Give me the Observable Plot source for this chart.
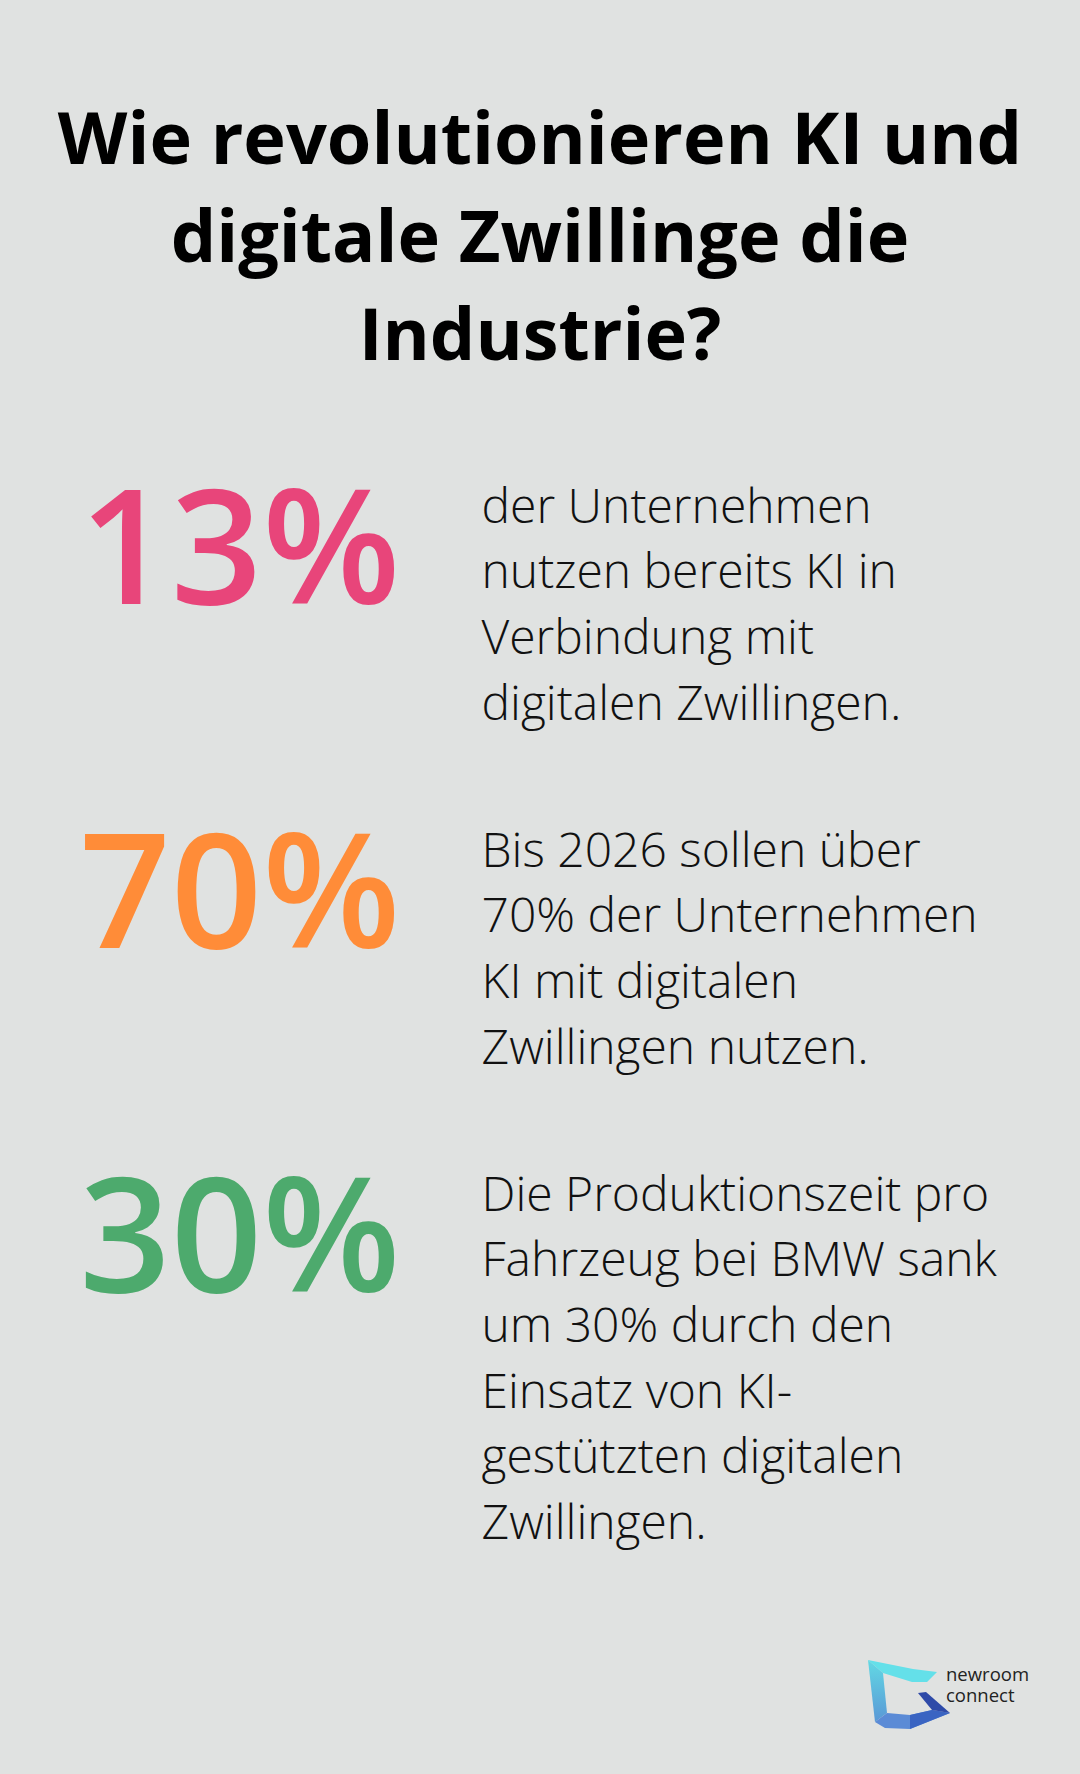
<!DOCTYPE html>
<html><head><meta charset="utf-8">
<script src="https://cdn.jsdelivr.net/npm/d3@7"></script>
<script src="https://cdn.jsdelivr.net/npm/@observablehq/plot@0.6"></script>
<style>
html,body{margin:0;padding:0;background:#e0e2e1;}
#page{position:relative;width:1080px;height:1774px;overflow:hidden;background:#e0e2e1;}
#title{position:absolute;left:0;top:87px;width:1080px;margin:0;text-align:center;font-family:"Open Sans";font-weight:700;font-size:72px;line-height:98px;color:#000;}
#chart{position:absolute;left:0;top:400px;}
#logoicon{position:absolute;left:860px;top:1650px;}
.logotext{position:absolute;left:946px;font-family:"Open Sans";font-weight:400;font-size:18.5px;line-height:20px;color:#222;}
</style></head>
<body>
<div id="page">
  <h1 id="title"></h1>
  <div id="chart"></div>
  <svg id="logoicon" width="92" height="82" viewBox="0 0 92 82">
    <defs>
      <linearGradient id="gl" x1="0" y1="0" x2="0" y2="1">
        <stop offset="0" stop-color="#62d9e4"/><stop offset="1" stop-color="#5a98d6"/>
      </linearGradient>
    </defs>
    <polygon points="8,10 53,19 77,22 67,32 52,32 23,23" fill="#64e0e9"/>
    <polygon points="8,10 23,23 27,63 15,72" fill="url(#gl)"/>
    <polygon points="15,72 27,63 50,65 72,60 90,63 50,79 25,78" fill="#5b8bd6"/>
    <polygon points="50,65 72,60 90,63 50,79" fill="#3a64c2"/>
    <polygon points="58,43 66,42 90,63 72,60" fill="#2e4aa8"/>
  </svg>
  <div class="logotext" style="top:1664px">newroom</div>
  <div class="logotext" style="top:1685px">connect</div>
</div>
<script>
const titleLines = ["Wie revolutionieren KI und", "digitale Zwillinge die", "Industrie?"];
const values = ["13%", "70%", "30%"];
const colors = ["#e8457a", "#ff8c38", "#4daa6d"];
const descriptions = [
  ["der Unternehmen", "nutzen bereits KI in", "Verbindung mit", "digitalen Zwillingen."],
  ["Bis 2026 sollen über", "70% der Unternehmen", "KI mit digitalen", "Zwillingen nutzen."],
  ["Die Produktionszeit pro", "Fahrzeug bei BMW sank", "um 30% durch den", "Einsatz von KI-", "gestützten digitalen", "Zwillingen."]
];

document.getElementById("title").innerHTML = titleLines.map(t => t.replace(/&/g,"&amp;")).join("<br>");

// layout constants (pixels)
const W = 1080, H = 1230;
const FIRST = 122, STEP = 344, LINE = 65.7, NUM_DY = 81;
const NUM_X = 400, TEXT_X = 481;

const stats = values.map((v, i) => ({i, value: v, color: colors[i]}));
const rows = descriptions.flatMap((lines, i) => lines.map((t, j) => ({i, j, t})));

const chart = Plot.plot({
  width: W, height: H, margin: 0,
  x: {type: "identity", axis: null}, y: {type: "identity", axis: null}, color: {type: "identity"},
  style: {background: "none", overflow: "visible"},
  marks: [
    Plot.text(stats, {
      x: () => NUM_X, y: d => FIRST + d.i * STEP + NUM_DY,
      text: "value", fill: "color", textAnchor: "end", lineAnchor: "bottom",
      fontFamily: "Open Sans", fontWeight: 600, fontSize: 160
    }),
    Plot.text(rows, {
      x: () => TEXT_X, y: d => FIRST + d.i * STEP + d.j * LINE,
      text: "t", fill: "#111", textAnchor: "start", lineAnchor: "bottom",
      fontFamily: "Open Sans", fontWeight: 300, fontSize: 48
    })
  ]
});
document.getElementById("chart").appendChild(chart);
</script>
</body></html>
